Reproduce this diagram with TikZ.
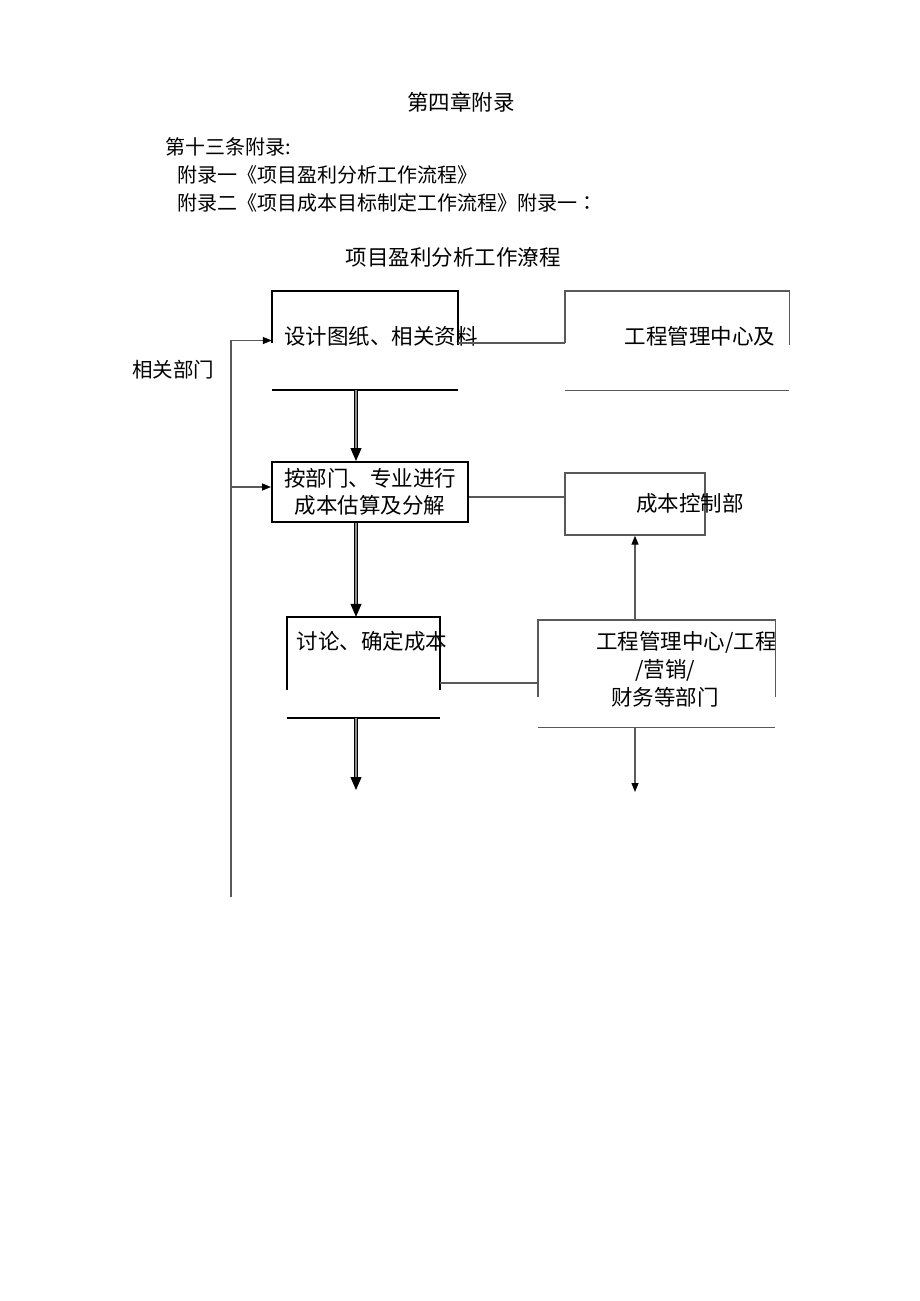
\documentclass[tikz,border=0pt]{standalone}
\usepackage{fontspec}
\setmainfont{Noto Sans CJK SC}
\newfontfamily\tcfont{Noto Sans CJK TC}
\usetikzlibrary{arrows.meta}

\tikzset{
  box/.style={inner sep=0pt},
  txt/.style={font=\fontsize{21.5}{27}\selectfont, inner sep=0pt},
  para/.style={font=\fontsize{20}{23}\selectfont, anchor=west, inner sep=0pt},
  bline/.style={line width=2pt, black},
  gline/.style={line width=1.4pt, black!65},
  arr/.style={gline, -{Triangle[length=9pt,width=7pt,color=black]}},
  dbl/.style={double=black!45, double distance=1.6pt, line width=1.2pt, -{Triangle[length=13pt,width=11pt]}}
}

\begin{document}
\begin{tikzpicture}[x=1pt,y=-1pt]
\useasboundingbox (0,0) rectangle (920,1301);
\fill[white] (0,0) rectangle (920,1301);

% header text
\node[txt] (chap) at (461,102) {第四章附录};
\node[para] (art) at (165,147) {第十三条附录:};
\node[para] (app1) at (177,175) {附录一《项目盈利分析工作流程》};
\node[para] (app2) at (177,203) {附录二《项目成本目标制定工作流程》附录一{\tcfont ：}};
\node[txt] (title) at (453,257) {项目盈利分析工作潦程};

% boxes
\node[box, minimum width=186pt, minimum height=99pt] (sjzl) at (365,340.5) {};
\node[txt] (sjzl-t) at (381,336) {设计图纸、相关资料};
\node[box, minimum width=224pt, minimum height=99pt] (gcgl) at (677,340.5) {};
\node[txt] (gcgl-t) at (700,336) {工程管理中心及};
\node[txt, draw, bline, minimum width=196pt, minimum height=60pt, align=center] (gsfj) at (370,492) {按部门、专业进行\\成本估算及分解};
\node[box, draw, gline, minimum width=140pt, minimum height=62pt] (kzb) at (635,504) {};
\node[txt] (kzb-t) at (690,503) {成本控制部};
\node[box, minimum width=153pt, minimum height=101pt] (qdcb) at (363.5,667.5) {};
\node[txt] (qdcb-t) at (372,641) {讨论、确定成本};
\node[box, minimum width=237pt, minimum height=107pt] (cwbm) at (656.5,673.5) {};
\node[txt, align=center, font=\fontsize{21.5}{28}\selectfont] (cwbm-t) at (665,669) {\hspace*{2em}工程管理中心/工程\\/营销/\\财务等部门};
\node[txt, font=\fontsize{20.5}{24}\selectfont] (side) at (173,370) {相关部门};

% open frames
\draw[bline] ([yshift=-52pt]sjzl.north west) -- (sjzl.north west) -- (sjzl.north east) -- ([yshift=-54pt]sjzl.north east);
\draw[bline] (sjzl.south west) -- (sjzl.south east);
\draw[gline] ([yshift=-52pt]gcgl.north west) -- (gcgl.north west) -- (gcgl.north east) -- ([yshift=-54pt]gcgl.north east);
\draw[gline] (gcgl.south west) -- (gcgl.south east);
\draw[bline] ([yshift=-73pt]qdcb.north west) -- (qdcb.north west) -- (qdcb.north east) -- ([yshift=-73pt]qdcb.north east);
\draw[bline] (qdcb.south west) -- (qdcb.south east);
\draw[gline] ([yshift=-77pt]cwbm.north west) -- (cwbm.north west) -- (cwbm.north east) -- ([yshift=-77pt]cwbm.north east);
\draw[gline] (cwbm.south west) -- (cwbm.south east);

% connectors
\coordinate (col) at (356,0);
\coordinate (lbot) at (231,897);
\coordinate (cend) at (356,790);
\coordinate (rend) at (635,792);
\draw[arr] (lbot) |- (sjzl.west);
\draw[arr] (lbot |- gsfj.west) ++(0,-5) coordinate (lmid) -- ([yshift=5pt]gsfj.west);
\draw[gline] ([yshift=-52pt]sjzl.north east) -- ([yshift=-52pt]gcgl.north west);
\draw[dbl] (sjzl.south -| col) -- (gsfj.north -| col);
\draw[gline] ([yshift=-5pt]gsfj.east) -- ([yshift=-5pt]gsfj.east -| kzb.west);
\draw[dbl] (gsfj.south -| col) -- (qdcb.north -| col);
\draw[arr] (kzb.south |- cwbm.north) -- (kzb.south);
\draw[gline] ([yshift=-66pt]qdcb.north east) -- ([yshift=-66pt]qdcb.north east -| cwbm.west);
\draw[dbl] (qdcb.south -| col) -- (cend);
\draw[arr] (kzb.south |- cwbm.south) -- (rend);
\end{tikzpicture}
\end{document}
